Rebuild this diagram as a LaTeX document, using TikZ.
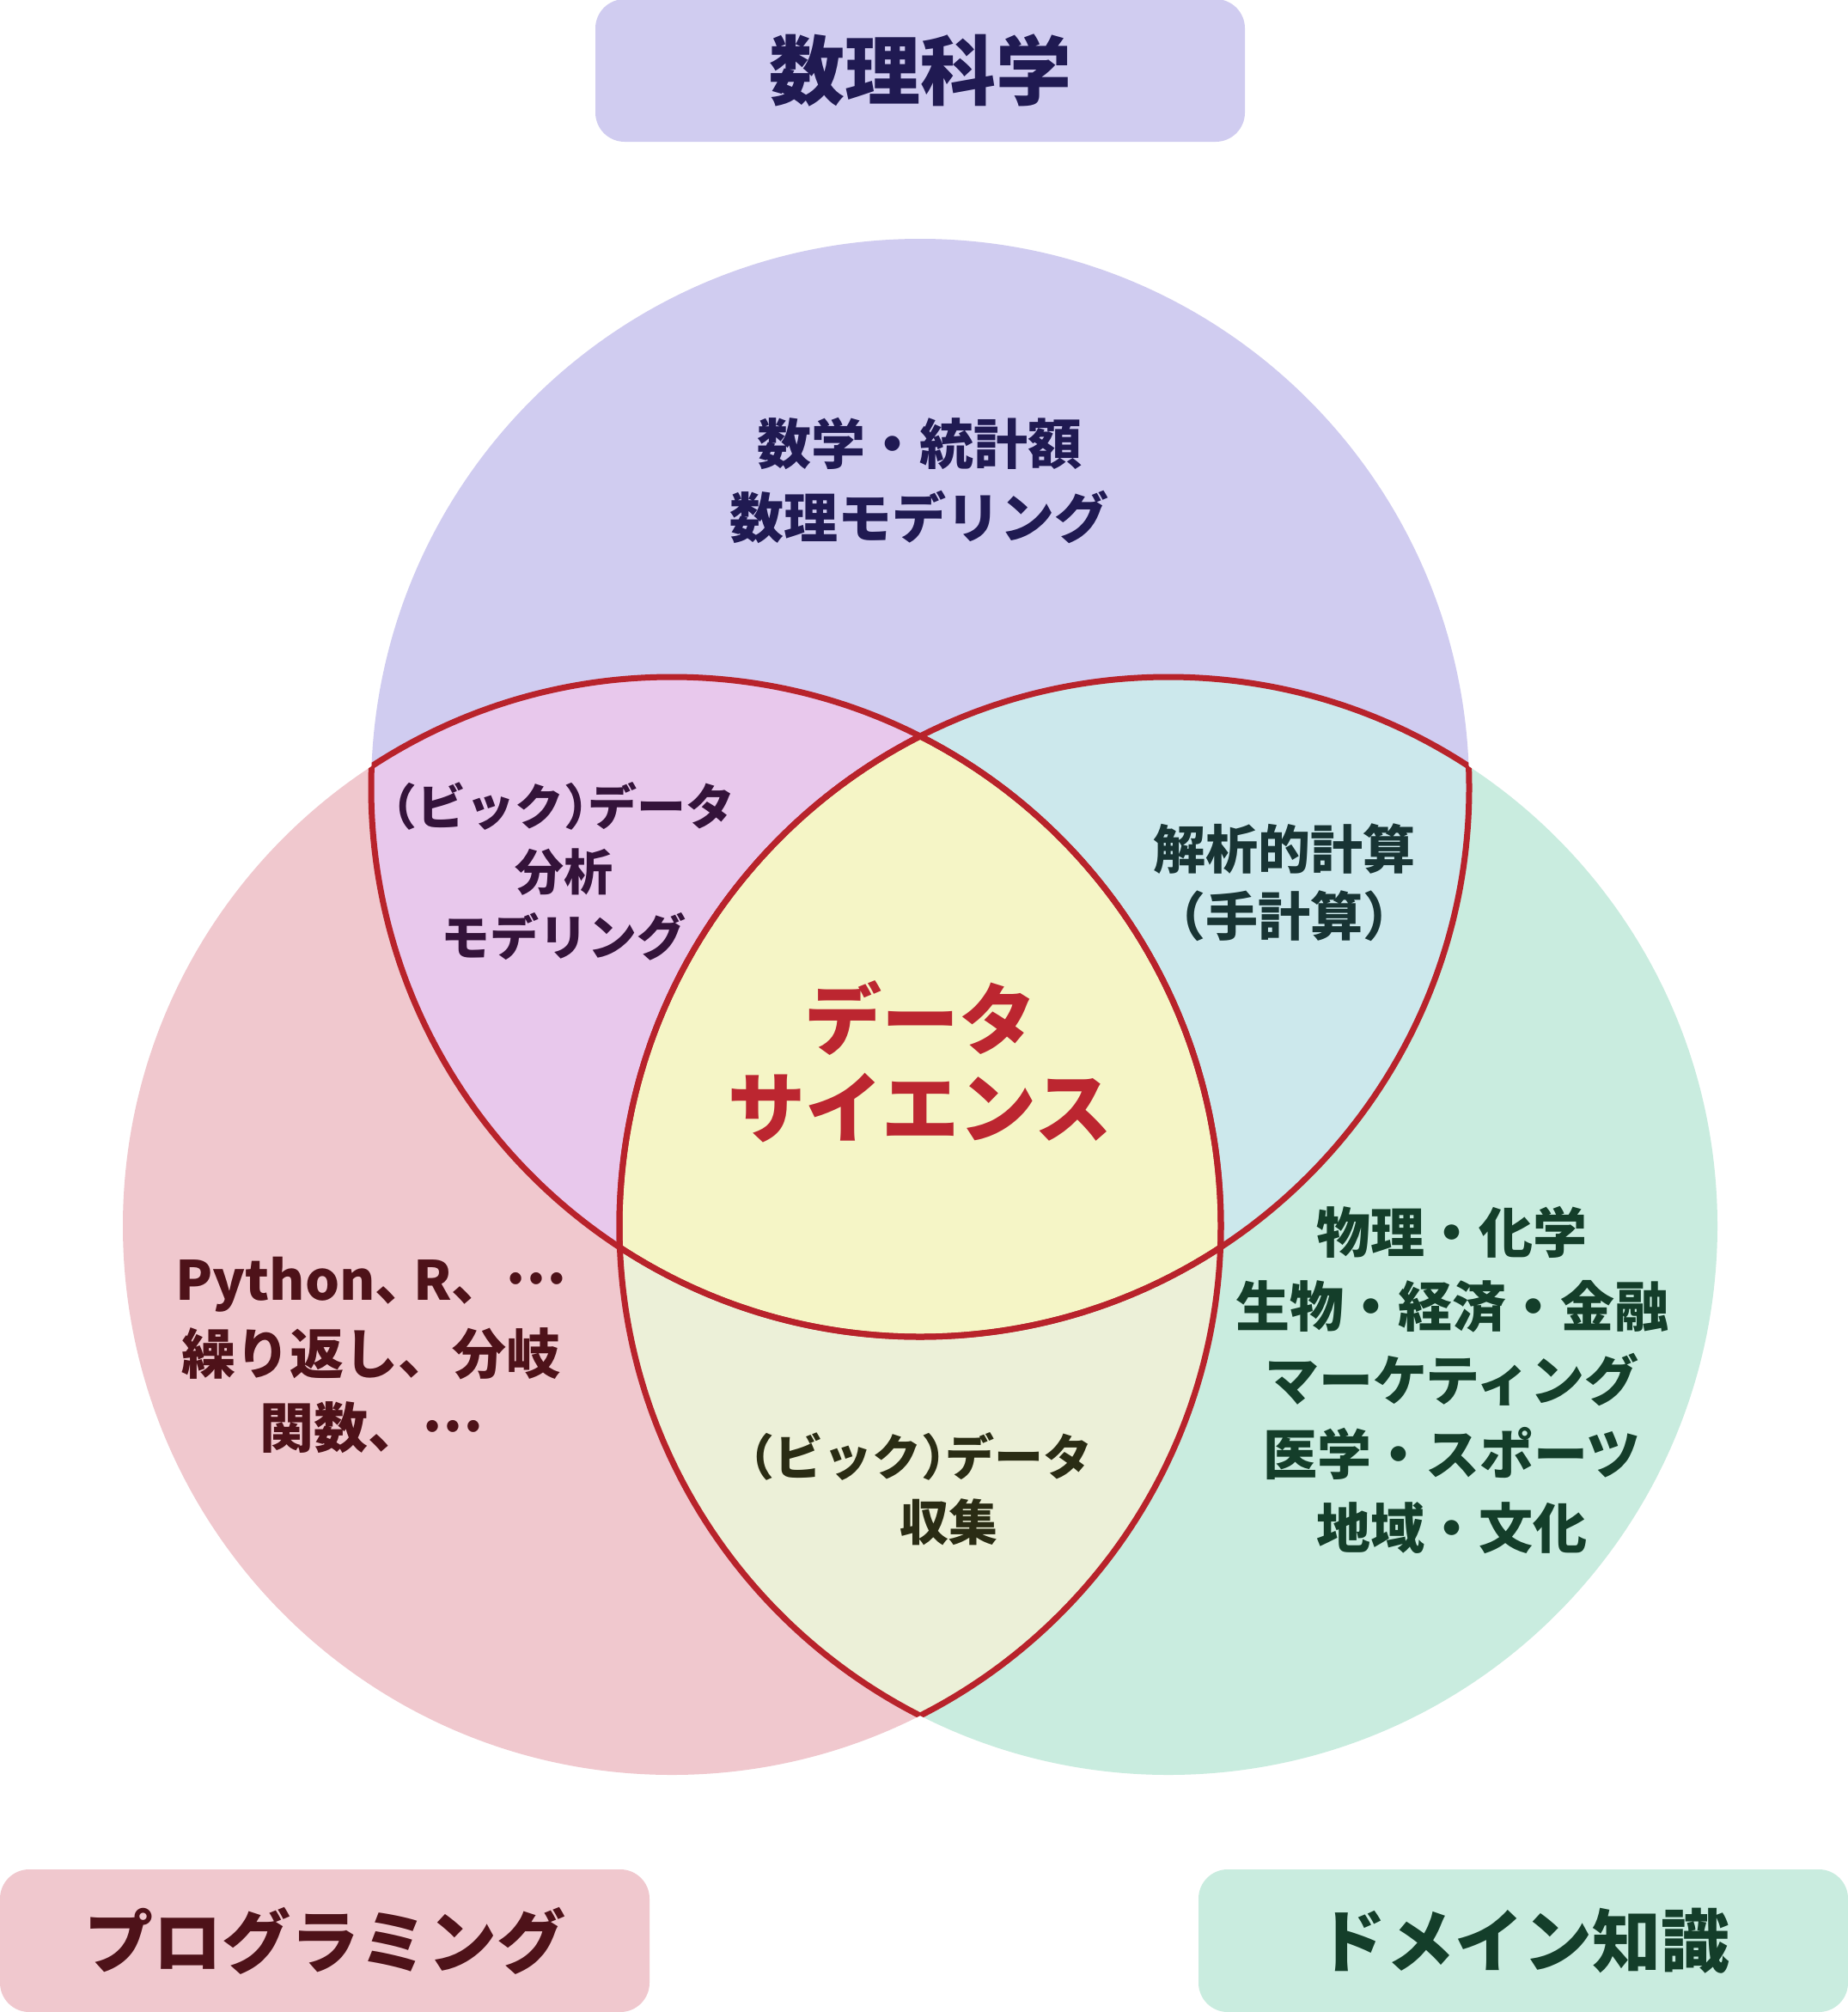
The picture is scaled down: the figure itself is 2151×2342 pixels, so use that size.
\documentclass[tikz,border=0pt]{standalone}
\usepackage{fontspec}
\newfontfamily\cjk{Noto Sans CJK JP}
\definecolor{lav}{HTML}{D0CCF0}
\definecolor{pnk}{HTML}{F0C8CE}
\definecolor{mnt}{HTML}{C9ECDF}
\definecolor{ovTL}{HTML}{E8C8EC}
\definecolor{ovTR}{HTML}{CCE8EC}
\definecolor{ovLR}{HTML}{ECF0D8}
\definecolor{ovAll}{HTML}{F5F5C6}
\definecolor{ringred}{HTML}{B8232B}
\definecolor{navy}{HTML}{201A52}
\definecolor{maroon}{HTML}{4E1219}
\definecolor{dgreen}{HTML}{143E2A}
\definecolor{dsred}{HTML}{BC2630}
\definecolor{txTL}{HTML}{34133A}
\definecolor{txTR}{HTML}{183434}
\definecolor{txLR}{HTML}{2A2C14}
\newcommand\lpar{\hbox{\kern-.5em（}}
\newcommand\rpar{\hbox{）\kern-.5em}}
\newcommand\tcomma{\hbox{、\kern-.3em}}
\newcommand\midellip{\hbox{\raise.3em\hbox{…}}}
\tikzset{
  regiontext/.style={inner sep=0pt, align=center, font=\cjk\bfseries\fontsize{61}{78}\selectfont},
  smallregion/.style={inner sep=0pt, align=center, font=\cjk\bfseries\fontsize{57}{76}\selectfont},
  bigtext/.style={inner sep=0pt, align=center, font=\cjk\bfseries\fontsize{63}{86}\selectfont},
  titlebox/.style={rounded corners=34pt, minimum width=756pt, minimum height=166pt, inner sep=0pt, font=\cjk\bfseries\fontsize{80}{100}\selectfont},
  ring/.style={draw=ringred, line width=7pt},
}
\begin{document}
\begin{tikzpicture}[x=1pt,y=-1pt]
\useasboundingbox (0,0) rectangle (2151,2342);
\fill[white] (0,0) rectangle (2151,2342);
\def\crad{639pt}
\coordinate (T) at (1071,917);
\coordinate (L) at (782,1427);
\coordinate (R) at (1360,1427);
% base circles
\fill[lav] (T) circle[radius=\crad];
\fill[pnk] (L) circle[radius=\crad];
\fill[mnt] (R) circle[radius=\crad];
% pairwise overlaps
\begin{scope}\clip (T) circle[radius=\crad]; \fill[ovTL] (L) circle[radius=\crad];\end{scope}
\begin{scope}\clip (T) circle[radius=\crad]; \fill[ovTR] (R) circle[radius=\crad];\end{scope}
\begin{scope}\clip (L) circle[radius=\crad]; \fill[ovLR] (R) circle[radius=\crad];\end{scope}
\begin{scope}\clip (T) circle[radius=\crad]; \clip (L) circle[radius=\crad]; \fill[ovAll] (R) circle[radius=\crad];\end{scope}
% red outlines of overlap regions
\begin{scope}\clip (L) circle[radius=\crad]; \draw[ring] (T) circle[radius=\crad];\end{scope}
\begin{scope}\clip (R) circle[radius=\crad]; \draw[ring] (T) circle[radius=\crad];\end{scope}
\begin{scope}\clip (T) circle[radius=\crad]; \draw[ring] (L) circle[radius=\crad];\end{scope}
\begin{scope}\clip (R) circle[radius=\crad]; \draw[ring] (L) circle[radius=\crad];\end{scope}
\begin{scope}\clip (T) circle[radius=\crad]; \draw[ring] (R) circle[radius=\crad];\end{scope}
\begin{scope}\clip (L) circle[radius=\crad]; \draw[ring] (R) circle[radius=\crad];\end{scope}
% title boxes
\node[titlebox, fill=lav, text=navy, font=\cjk\bfseries\fontsize{88}{100}\selectfont] (boxMath) at (1071,82) {数理科学};
\node[titlebox, fill=pnk, text=maroon] (boxProg) at (378,2259) {プログラミング};
\node[titlebox, fill=mnt, text=dgreen] (boxDom) at (1773,2259) {ドメイン知識};
% region texts
\node[bigtext, text=navy] (txMath) at (1070,560) {数学・統計額\\数理モデリング};
\node[bigtext, text=maroon] (txProg) at (432,1577) {Python\tcomma R、\midellip\\繰り返し、分岐\\関数、\midellip};
\node[bigtext, text=dgreen] (txDom) at (1690,1606) {物理・化学\\生物・経済・金融\\マーケティング\\医学・スポーツ\\地域・文化};
\node[smallregion, text=txTL] (txTL) at (656,1014) {\lpar ビック\rpar データ\\分析\\モデリング};
\node[regiontext, text=txTR] (txTR) at (1495,1027) {解析的計算\\\lpar 手計算\rpar};
\node[smallregion, text=txLR] (txLRa) at (1072,1695) {\lpar ビック\rpar データ};
\node[smallregion, text=txLR] (txLRb) at (1104,1772) {収集};
\node[inner sep=0pt, align=center, text=dsred, font=\cjk\bfseries\fontsize{90}{103}\selectfont] (txDS) at (1071,1236) {データ\\サイエンス};
\end{tikzpicture}
\end{document}
